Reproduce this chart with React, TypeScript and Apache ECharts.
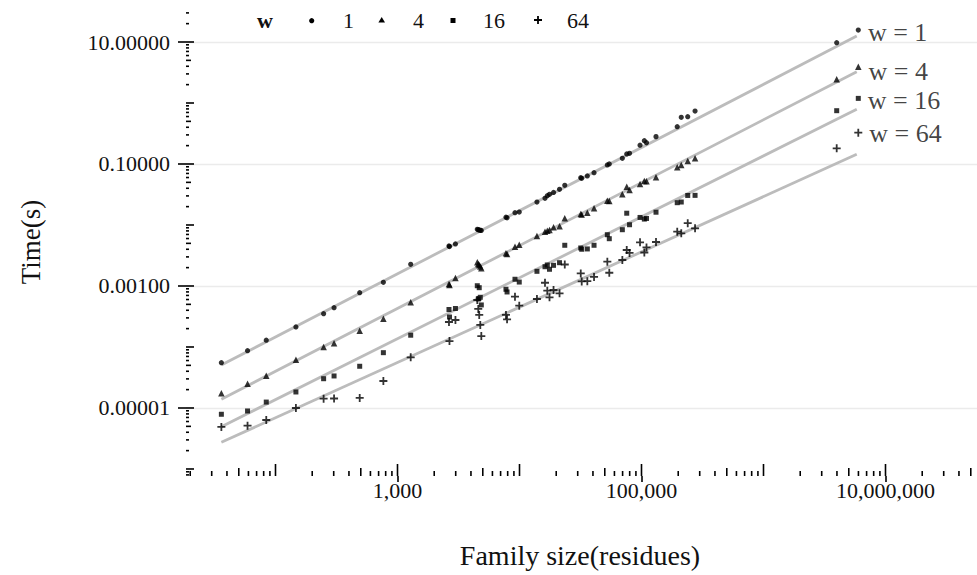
import React, { useEffect, useRef } from "react";
import * as echarts from "echarts";

// ---- data (family size in residues, time in seconds) ----
const familySizes = [36, 59, 84, 147, 248, 302, 490, 766, 1283, 2642, 2667, 2985, 4508, 4592, 4677, 4771, 4864, 7745, 7907, 9183, 9955, 13900, 16180, 16900, 17620, 19010, 21290, 23500, 31770, 32360, 35970, 40830, 52480, 54450, 69660, 75680, 79800, 97270, 105500, 109900, 131500, 196300, 211800, 239300, 274800, 3981000, 5984000];

const timeW1 = [5.53e-5, 8.69e-5, 1.29e-4, 2.13e-4, 3.52e-4, 4.41e-4, 7.76e-4, 1.15e-3, 2.27e-3, 4.53e-3, 4.44e-3, 4.89e-3, 8.51e-3, 8.34e-3, 8.28e-3, 8.18e-3, 8.13e-3, 1.34e-2, 1.31e-2, 1.59e-2, 1.63e-2, 2.38e-2, 2.74e-2, 3.02e-2, 3.18e-2, 3.41e-2, 3.85e-2, 4.48e-2, 5.96e-2, 5.83e-2, 6.36e-2, 7.2e-2, 9.64e-2, 0.1, 0.124, 0.146, 0.15, 0.203, 0.241, 0.223, 0.281, 0.408, 0.583, 0.596, 0.739, 9.74, 15.7];
const timeW4 = [1.74e-5, 2.5e-5, 3.39e-5, 6.19e-5, 1.0e-4, 1.15e-4, 1.85e-4, 2.91e-4, 5.41e-4, 1.08e-3, 1.04e-3, 1.35e-3, 2.45e-3, 2.3e-3, 2.21e-3, 2.09e-3, 1.95e-3, 3.44e-3, 3.35e-3, 4.41e-3, 4.75e-3, 6.61e-3, 7.76e-3, 8.07e-3, 8.28e-3, 9.17e-3, 9.53e-3, 1.29e-2, 1.51e-2, 1.48e-2, 1.59e-2, 1.88e-2, 2.5e-2, 2.48e-2, 3.18e-2, 4.25e-2, 3.75e-2, 4.7e-2, 5.26e-2, 5.2e-2, 6.05e-2, 8.83e-2, 9.64e-2, 0.112, 0.124, 2.45, 3.94];
const timeW16 = [7.89e-6, 8.93e-6, 1.25e-5, 1.83e-5, 3.02e-5, 3.35e-5, 4.83e-5, 8.07e-5, 1.56e-4, 4.12e-4, 3.1e-4, 4.28e-4, 1.01e-3, 6.12e-4, 9.38e-4, 6.53e-4, 4.89e-4, 8.83e-4, 7.98e-4, 1.29e-3, 1.16e-3, 1.74e-3, 2.07e-3, 2.21e-3, 1.88e-3, 2.18e-3, 2.41e-3, 4.65e-3, 4.2e-3, 4.0e-3, 4.05e-3, 4.65e-3, 6.93e-3, 5.96e-3, 8.37e-3, 1.56e-2, 1.01e-2, 1.33e-2, 1.25e-2, 1.28e-2, 1.62e-2, 2.32e-2, 2.38e-2, 3.05e-2, 3.06e-2, 0.748, 1.19];
const timeW64 = [4.89e-6, 5.13e-6, 6.36e-6, 1.0e-5, 1.42e-5, 1.43e-5, 1.46e-5, 2.77e-5, 6.78e-5, 2.57e-4, 1.25e-4, 2.77e-4, 5.89e-4, 4.2e-4, 3.35e-4, 2.3e-4, 1.51e-4, 3.35e-4, 2.84e-4, 6.68e-4, 4.75e-4, 6.12e-4, 1.13e-3, 8.37e-4, 6.53e-4, 8.59e-4, 7.59e-4, 2.25e-3, 1.61e-3, 1.19e-3, 1.2e-3, 1.41e-3, 2.5e-3, 1.65e-3, 2.67e-3, 3.89e-3, 3.48e-3, 5.2e-3, 3.54e-3, 4.28e-3, 5.26e-3, 7.76e-3, 7.31e-3, 1.07e-2, 8.83e-3, 0.181, 0.326];

// fitted regression lines (end points)
const fitSizes = [36, 5810000];
const fitW1 = [5.07e-5, 12.5];
const fitW4 = [1.39e-5, 3.26];
const fitW16 = [4.93e-6, 0.789];
const fitW64 = [2.74e-6, 0.144];

const wValues = ["1", "4", "16", "64"];
const xLabelExps = [3, 5, 7];
const yLabelExps = [-5, -3, -1, 1];

// ---- layout / style ----
const FONT = "'Liberation Serif', 'DejaVu Serif', serif";
const TEXT = "#111111";
const X_MIN = 1.2664;
const X_MAX = 7.75;
const Y_MIN = -6.115;
const Y_MAX = 1.5574;
const PLUS_PATH = "path://M3.1,0H4.9V3.1H8V4.9H4.9V8H3.1V4.9H0V3.1H3.1Z";

const lg = (v: number) => Math.log10(v);

function buildTicks() {
  const out: number[][] = [];
  for (let d = 0; d <= 8; d++) {
    for (let m = 1; m <= 9; m++) {
      const v = d + Math.log10(m);
      if (v >= X_MIN && v <= X_MAX) out.push([0, v, m === 1 ? 12 : m === 5 ? 8 : 5]);
    }
  }
  for (let d = -7; d <= 1; d++) {
    for (let m = 1; m <= 9; m++) {
      const v = d + Math.log10(m);
      if (v >= Y_MIN && v <= Y_MAX) out.push([1, v, m === 1 ? 8 : m === 5 ? 5 : 3]);
    }
  }
  return out;
}

function fmtX(v: number) {
  return Math.round(Math.pow(10, v)).toString().replace(/\B(?=(\d{3})+(?!\d))/g, ",");
}

export default function App() {
  const ref = useRef<HTMLDivElement>(null);
  useEffect(() => {
    const chart = echarts.init(ref.current as HTMLDivElement, null, { renderer: "svg" });
    const seriesDefs = [
      { name: "1", times: timeW1, fit: fitW1, symbol: "circle", size: 5.2, labelOffset: [0, 2] },
      { name: "4", times: timeW4, fit: fitW4, symbol: "triangle", size: 6.5, labelOffset: [0, 5] },
      { name: "16", times: timeW16, fit: fitW16, symbol: "rect", size: 5, labelOffset: [0, 2] },
      { name: "64", times: timeW64, fit: fitW64, symbol: PLUS_PATH, size: 8, labelOffset: [0, 1] },
    ];
    const series: any[] = [];
    seriesDefs.forEach((s) => {
      series.push({
        type: "line",
        name: "fit" + s.name,
        data: fitSizes.map((x, i) => [lg(x), lg(s.fit[i])]),
        symbol: "none",
        lineStyle: { color: "#bcbcbc", width: 2.8 },
        z: 2,
        silent: true,
      });
    });
    seriesDefs.forEach((s) => {
      const last = familySizes.length - 1;
      series.push({
        type: "scatter",
        name: s.name,
        symbol: s.symbol,
        symbolSize: s.size,
        itemStyle: { color: "#000" },
        z: 3,
        data: familySizes.map((x, i) => {
          const val = [lg(x), lg(s.times[i])];
          if (i === last) {
            return {
              value: val,
              label: {
                show: true,
                position: "right",
                distance: 7,
                offset: s.labelOffset,
                formatter: "w = " + s.name,
                fontFamily: FONT,
                fontSize: 26,
                color: TEXT,
              },
            };
          }
          return val;
        }),
      });
    });
    series.push({
      type: "custom",
      name: "logticks",
      silent: true,
      z: 1,
      data: buildTicks(),
      renderItem: (params: any, api: any) => {
        const kind = api.value(0);
        const v = api.value(1);
        const len = api.value(2);
        const cs = params.coordSys;
        if (kind === 0) {
          const p = api.coord([v, Y_MIN]);
          const b = cs.y + cs.height;
          return { type: "line", shape: { x1: p[0], y1: b, x2: p[0], y2: b - len }, style: { stroke: "#000", lineWidth: 1.6 } };
        }
        const p = api.coord([X_MIN, v]);
        return { type: "line", shape: { x1: cs.x, y1: p[1], x2: cs.x + len, y2: p[1] }, style: { stroke: "#000", lineWidth: 1.6 } };
      },
    });

    const legendY = 20;
    const legendGraphic: any[] = [
      { type: "text", x: 265, y: legendY, style: { text: "w", font: "bold 22px " + FONT, fill: TEXT, align: "center", verticalAlign: "middle" } },
      { type: "circle", shape: { cx: 311.7, cy: legendY + 0.7, r: 2.6 }, style: { fill: "#000" } },
      { type: "text", x: 343, y: legendY, style: { text: wValues[0], font: "22px " + FONT, fill: TEXT, align: "left", verticalAlign: "middle" } },
      { type: "polygon", shape: { points: [[381.7, legendY - 3], [385, legendY + 2.6], [378.4, legendY + 2.6]] }, style: { fill: "#000" } },
      { type: "text", x: 413, y: legendY, style: { text: wValues[1], font: "22px " + FONT, fill: TEXT, align: "left", verticalAlign: "middle" } },
      { type: "rect", shape: { x: 450.5, y: legendY - 2, width: 5, height: 5 }, style: { fill: "#000" } },
      { type: "text", x: 483, y: legendY, style: { text: wValues[2], font: "22px " + FONT, fill: TEXT, align: "left", verticalAlign: "middle" } },
      { type: "polygon", shape: { points: [[537.1, legendY - 4], [538.9, legendY - 4], [538.9, legendY - 0.9], [542, legendY - 0.9], [542, legendY + 0.9], [538.9, legendY + 0.9], [538.9, legendY + 4], [537.1, legendY + 4], [537.1, legendY + 0.9], [534, legendY + 0.9], [534, legendY - 0.9], [537.1, legendY - 0.9]] }, style: { fill: "#000" } },
      { type: "text", x: 567, y: legendY, style: { text: wValues[3], font: "22px " + FONT, fill: TEXT, align: "left", verticalAlign: "middle" } },
      { type: "text", x: 580, y: 555, style: { text: "Family size(residues)", font: "28px " + FONT, fill: TEXT, align: "center", verticalAlign: "middle" } },
      { type: "text", x: 31, y: 242, rotation: Math.PI / 2, style: { text: "Time(s)", font: "27px " + FONT, fill: TEXT, align: "center", verticalAlign: "middle" } },
    ];

    chart.setOption({
      animation: false,
      backgroundColor: "#ffffff",
      grid: { left: 186, right: 0, top: 8, bottom: 99, containLabel: false },
      xAxis: {
        type: "value",
        min: X_MIN,
        max: X_MAX,
        axisLine: { show: false, onZero: false },
        splitLine: { show: false },
        axisTick: { show: true, customValues: xLabelExps, length: 6, lineStyle: { color: "#000", width: 1.6 } },
        axisLabel: { customValues: xLabelExps, formatter: fmtX, fontFamily: FONT, fontSize: 22, color: TEXT, margin: 3 },
      },
      yAxis: {
        type: "value",
        min: Y_MIN,
        max: Y_MAX,
        axisLine: { show: false, onZero: false },
        splitLine: { show: true, lineStyle: { color: "#ebebeb", width: 1.4 } },
        axisTick: { show: true, customValues: yLabelExps, length: 8, lineStyle: { color: "#000", width: 1.6 } },
        axisLabel: { customValues: yLabelExps, formatter: (v: number) => Math.pow(10, v).toFixed(5), fontFamily: FONT, fontSize: 22, color: TEXT, margin: 16 },
      },
      graphic: legendGraphic,
      series,
    });
    return () => chart.dispose();
  }, []);
  return <div ref={ref} style={{ position: "fixed", left: 0, top: 0, width: 977, height: 575, background: "#fff" }} />;
}
